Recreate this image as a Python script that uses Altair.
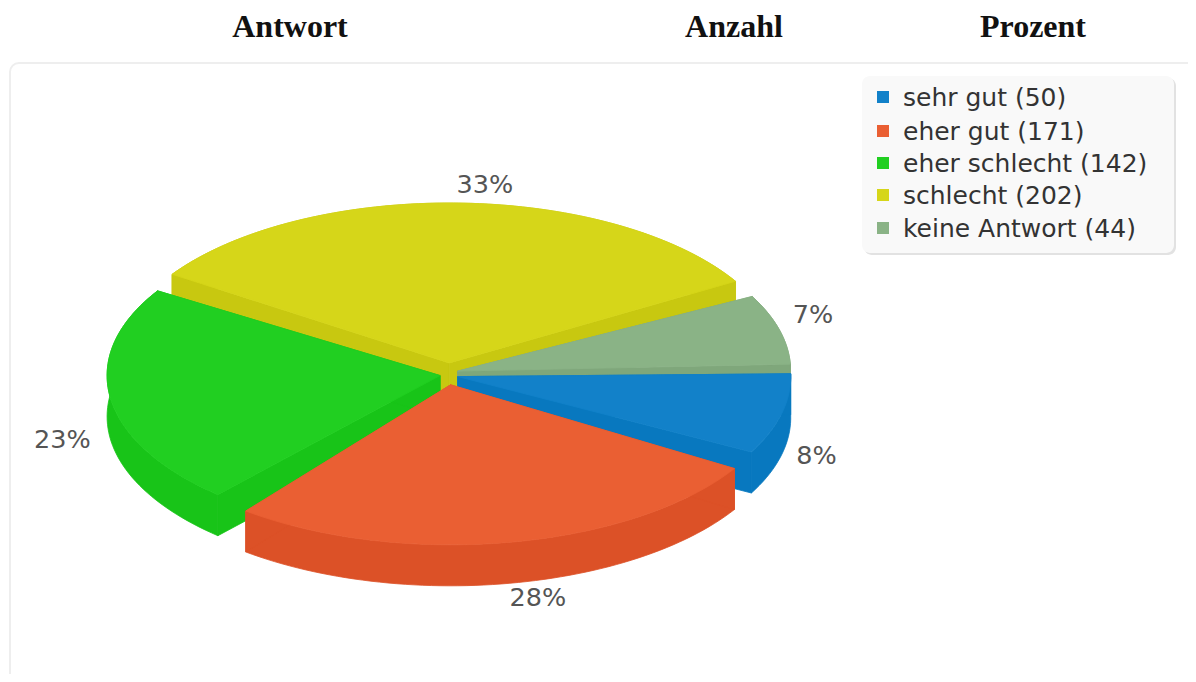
import math
import altair as alt
import pandas as pd

# ---- data ----
categories = ["sehr gut", "eher gut", "eher schlecht", "schlecht", "keine Antwort"]
counts = [50, 171, 142, 202, 44]
headers = ["Antwort", "Anzahl", "Prozent"]

# ---- styles ----
top_colors = ["#1281C9", "#EA5F33", "#21CF21", "#D6D619", "#8AB386"]
wall_colors = ["#0878BF", "#DC5127", "#18C418", "#C8C810", "#7FA77B"]
draw_order = [3, 4, 2, 0, 1]
header_x = [290, 734, 1033]
W, H = 1180, 666
CX, CY, RX, RY, EX, EY, DEPTH = 449, 374, 333, 160, 9, 11, 41
WARP, GAP = 0.9925, 1.2
start_tweak = [0, 1.0, 1.0, -0.5, -0.5]
end_tweak = [0, -0.5, 0.2, -1.0, 0]
label_nudge = [(35, 42), (28, 56), (-48, 42), (27, -18), (34, -14)]

total = sum(counts)
cum = [0]
for c in counts:
    cum.append(cum[-1] + c)
edges = [c / total * 360 * WARP for c in cum]
spans = []
for i in range(len(counts)):
    a0 = edges[i] + GAP + start_tweak[i] if i > 0 else -1.0
    a1 = edges[i + 1] - GAP + end_tweak[i] if i < len(counts) - 1 else 357.5
    spans.append((a0, a1))


def apex(i):
    m = math.radians((spans[i][0] + spans[i][1]) / 2)
    return CX + EX * math.cos(m), CY + EY * math.sin(m)


def rim(i):
    a0, a1 = spans[i]
    n = max(int((a1 - a0) / 1.5), 2)
    ax, ay = apex(i)
    out = []
    for k in range(n + 1):
        t = math.radians(a0 + (a1 - a0) * k / n)
        out.append((ax + RX * math.cos(t), ay + RY * math.sin(t)))
    return out


xs = alt.Scale(domain=[8, 8 + W], nice=False, zero=False)
ys = alt.Scale(domain=[8 + H, 8], nice=False, zero=False)
X = alt.X("x:Q", scale=xs, axis=None)
Y = alt.Y("y:Q", scale=ys, axis=None)


def polygon(points, color):
    pts = list(points) + [points[0]]
    df = pd.DataFrame({"x": [p[0] for p in pts], "y": [p[1] for p in pts], "i": range(len(pts))})
    return alt.Chart(df).mark_line(fill=color, stroke=color, strokeWidth=0.8, interpolate="linear").encode(
        x=X, y=Y, order=alt.Order("i:Q")
    )


def box(x0, y0, x1, y1, **kw):
    df = pd.DataFrame({"x": [x0], "x2": [x1], "y": [y0], "y2": [y1]})
    return alt.Chart(df).mark_rect(clip=True, **kw).encode(x=X, x2="x2:Q", y=Y, y2="y2:Q")


def text(rows, **kw):
    return alt.Chart(pd.DataFrame(rows)).mark_text(**kw).encode(x=X, y=Y, text="t:N")


layers = []
layers.append(box(10, 63, 1400, 900, fill="#FFFFFF", stroke="#EEEEEE", strokeWidth=2, cornerRadius=9))

for i in draw_order:
    r = rim(i)
    a = apex(i)
    wall, top = wall_colors[i], top_colors[i]
    low = [(x, y + DEPTH) for x, y in r]
    layers.append(polygon(r + low[::-1], wall))
    for c in (r[0], r[-1]):
        layers.append(polygon([a, c, (c[0], c[1] + DEPTH), (a[0], a[1] + DEPTH)], wall))
    layers.append(polygon([a] + r, top))

# percentage labels
rows = []
for i, c in enumerate(counts):
    m = math.radians((spans[i][0] + spans[i][1]) / 2)
    ax, ay = apex(i)
    rows.append({
        "x": ax + RX * math.cos(m) + label_nudge[i][0],
        "y": ay + RY * math.sin(m) + label_nudge[i][1],
        "t": f"{round(c / total * 100)}%",
    })
layers.append(text(rows, font="DejaVu Sans", fontSize=25.5, color="#555555", align="center", baseline="middle"))

# legend
layers.append(box(864, 78, 1176, 255, fill="#E2E2E2", cornerRadius=8))
layers.append(box(862, 76, 1174, 253, fill="#F9F9F9", cornerRadius=8))
ly = [97, 131, 163, 195, 228]
for i in range(len(categories)):
    layers.append(box(877, ly[i] - 6, 889, ly[i] + 6, fill=top_colors[i]))
layers.append(text(
    [{"x": 903, "y": ly[i] + 0.7, "t": f"{categories[i]} ({counts[i]})"} for i in range(len(categories))],
    font="DejaVu Sans", fontSize=25, color="#333333", align="left", baseline="middle",
))

# table header
layers.append(text(
    [{"x": header_x[i], "y": 27, "t": headers[i]} for i in range(3)],
    font="Liberation Serif", fontSize=32, fontWeight="bold", color="#111111", align="center", baseline="middle",
))

chart = alt.layer(*layers).properties(width=W, height=H, padding=0, background="#FFFFFF").configure_view(stroke=None)
chart.save("out.html", embed_options={"renderer": "svg", "actions": False})
